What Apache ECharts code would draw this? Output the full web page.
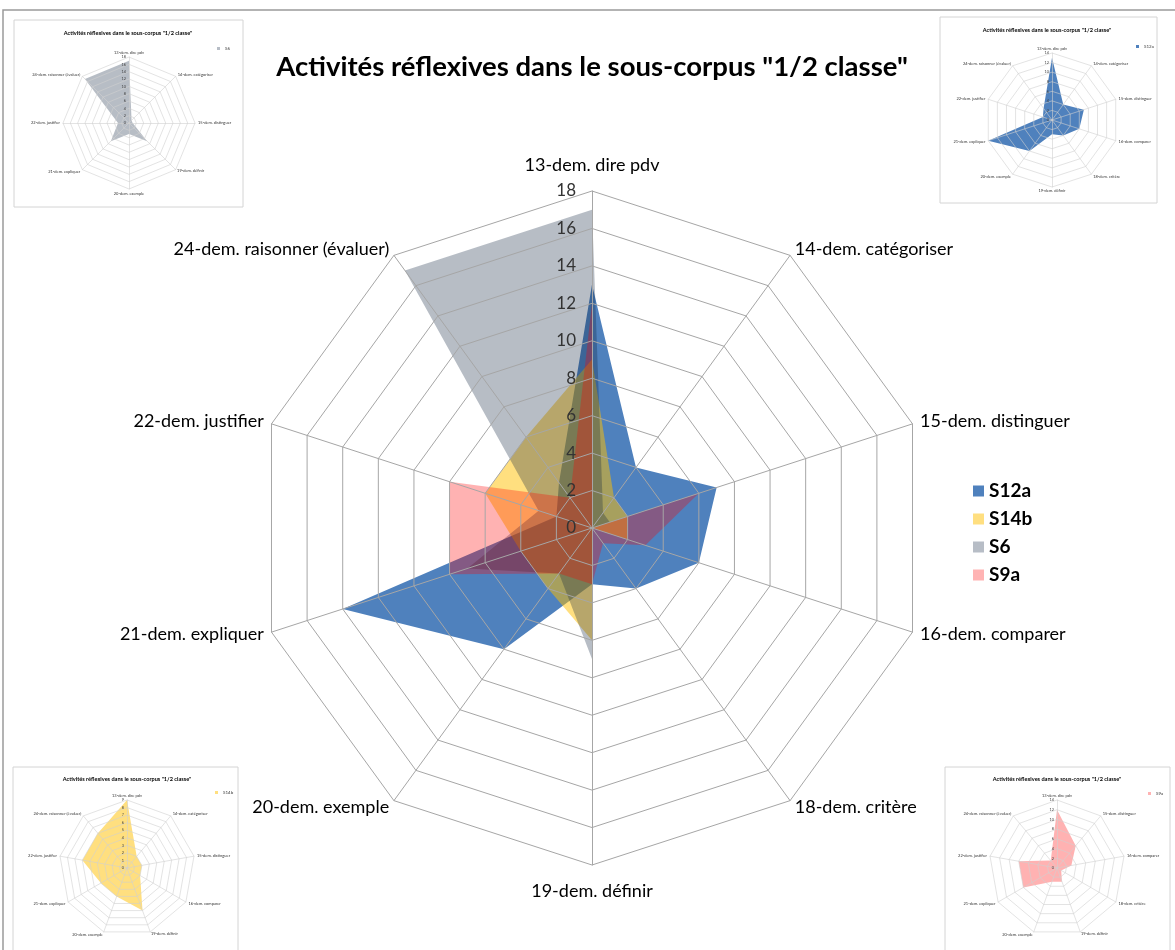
<!DOCTYPE html>
<html><head><meta charset="utf-8">
<script src="https://cdn.jsdelivr.net/npm/echarts@6/dist/echarts.min.js"></script>
<style>html,body{margin:0;padding:0;background:#fff;}#c{width:1175px;height:950px;}</style>
</head><body><div id="c"></div>
<script>
// ---------------- DATA ----------------
const categories = ['13-dem. dire pdv','14-dem. catégoriser','15-dem. distinguer','16-dem. comparer','18-dem. critère','19-dem. définir','20-dem. exemple','21-dem. expliquer','22-dem. justifier','24-dem. raisonner (évaluer)'];
const seriesNames = ['S12a','S14b','S6','S9a'];
const S12a = [13,4,7,6,4,3,8,14,2,3];
const S14b = [9,2,2,2,0,6,4,4,6,6];
const S6   = [17,1,1,0,0,7,3,7,3,17];
const S9a  = [12,0,6,3,1,3,3,8,8,2];
const mainMax = 18, mainStep = 2;
// axes (indices into categories) shown in each small chart
const insetAxesS6   = [0,1,2,5,6,7,8,9];
const insetAxesS12a = [0,1,2,3,4,5,6,7,8,9];
const insetAxesS14b = [0,1,2,3,5,6,7,8,9];
const insetAxesS9a  = [0,2,3,4,5,6,7,8,9];
const insetMaxS6 = 18, insetMaxS12a = 14, insetMaxS14b = 9, insetMaxS9a = 14;
const insetStepS6 = 2, insetStepS12a = 2, insetStepS14b = 1, insetStepS9a = 2;
const titleText = 'Activités réflexives dans le sous-corpus "1/2 classe"';

// ---------------- STYLE ----------------
const FONT = 'Lato, "Open Sans", sans-serif';
const values = {S12a, S14b, S6, S9a};
const fill = {S12a:'rgba(79,129,189,1)', S14b:'rgba(255,192,0,0.5)', S6:'rgba(15,36,62,0.30)', S9a:'rgba(255,0,0,0.30)'};
const swatch = {S12a:'#4F81BD', S14b:'#FFDF80', S6:'#B7BDC6', S9a:'#FFB3B3'};
const cw = arr => [arr[0]].concat(arr.slice(1).reverse()); // clockwise order

const radars = [], series = [], legends = [], graphics = [];

// frame
graphics.push({type:'rect', z:-1, shape:{x:3, y:10, width:1180, height:950}, style:{fill:'none', stroke:'#9a9a9a', lineWidth:1.5}});

// main chart
const mainOrder = cw(categories.map((_, i) => i));
radars.push({
  center:[592, 528], radius:337, startAngle:90, shape:'polygon', splitNumber: mainMax / mainStep, z:3,
  indicator: mainOrder.map(i => ({name: categories[i], min:0, max: mainMax, nameGap: (i === 0 || i === 5) ? 17 : 8, axisLabel:{show: i === 0}})),
  axisName:{color:'#000', fontSize:18, fontFamily:FONT},
  axisLabel:{show:false, fontSize:17, color:'#333', fontFamily:FONT, margin:16},
  axisTick:{show:false},
  axisLine:{lineStyle:{color:'#A6A6A6', width:1}},
  splitLine:{lineStyle:{color:'#A6A6A6', width:1}},
  splitArea:{show:false}
});
series.push({
  type:'radar', radarIndex:0, symbol:'none', silent:true,
  data: seriesNames.map(n => ({
    name:n, value: mainOrder.map(i => values[n][i]),
    itemStyle:{color: swatch[n]}, lineStyle:{width:0, opacity:0},
    areaStyle:{color: fill[n], opacity:1}
  }))
});
legends.push({
  data: seriesNames, orient:'vertical', left:968, top:476, icon:'rect', itemWidth:11, itemHeight:11, itemGap:8,
  selectedMode:false, textStyle:{fontSize:19, fontWeight:'bold', fontFamily:FONT, color:'#000', lineHeight:20}
});
graphics.push({type:'text', x:592, y:67, style:{text:titleText, fontSize:27.5, fontWeight:'bold', fontFamily:FONT, fill:'#000', textAlign:'center', textVerticalAlign:'middle', align:'center', verticalAlign:'middle'}});

// small charts
function inset(name, axes, max, step, L) {
  const order = cw(axes);
  const ri = radars.length;
  radars.push({
    center:L.center, radius:L.radius, startAngle:90, shape:'polygon', splitNumber: max / step, z:3,
    indicator: order.map(i => ({name: categories[i], min:0, max: max, nameGap: (i === 0 || i === 5) ? 2 : 3, axisLabel:{show: i === 0}})),
    axisName:{color:'#333', fontSize:4, fontFamily:FONT},
    axisLabel:{show:false, fontSize:3.8, color:'#404040', fontFamily:FONT, margin:3},
    axisTick:{show:false},
    axisLine:{lineStyle:{color:'#D0D0D0', width:0.6}},
    splitLine:{lineStyle:{color:'#D0D0D0', width:0.6}},
    splitArea:{show:false}
  });
  series.push({
    type:'radar', radarIndex:ri, symbol:'none', silent:true,
    data:[{name:name, value: order.map(i => values[name][i]), itemStyle:{color: swatch[name]}, lineStyle:{width:0, opacity:0}, areaStyle:{color: fill[name], opacity:1}}]
  });
  legends.push({data:[name], orient:'vertical', left:L.legend[0], top:L.legend[1], icon:'rect', itemWidth:3, itemHeight:3, itemGap:2,
    selectedMode:false, textStyle:{fontSize:4.5, fontFamily:FONT, color:'#404040'}});
  graphics.push({type:'rect', z:-1, shape:{x:L.box[0], y:L.box[1], width:L.box[2], height:L.box[3]}, style:{fill:'none', stroke:'#D4D4D4', lineWidth:1}});
  graphics.push({type:'text', x:L.title[0], y:L.title[1], style:{text:titleText, fontSize:5.6, fontWeight:'bold', fontFamily:FONT, fill:'#000', textAlign:'center', textVerticalAlign:'middle', align:'center', verticalAlign:'middle'}});
}
inset('S6', insetAxesS6, insetMaxS6, insetStepS6, {center:[129,123], radius:66, box:[14,20,229,187], title:[128,33], legend:[212,41]});
inset('S12a', insetAxesS12a, insetMaxS12a, insetStepS12a, {center:[1052,120], radius:67, box:[940,17,217,186], title:[1047,30], legend:[1131,39]});
inset('S14b', insetAxesS14b, insetMaxS14b, insetStepS14b, {center:[127,868], radius:68, box:[13,767,225,190], title:[127,779], legend:[210,785]});
inset('S9a', insetAxesS9a, insetMaxS9a, insetStepS9a, {center:[1057,868], radius:68, box:[945,767,225,190], title:[1057,779], legend:[1143,786]});

const chart = echarts.init(document.getElementById('c'));
chart.setOption({
  backgroundColor:'#fff', animation:false,
  radar: radars, series: series, legend: legends, graphic: graphics
});
</script></body></html>
